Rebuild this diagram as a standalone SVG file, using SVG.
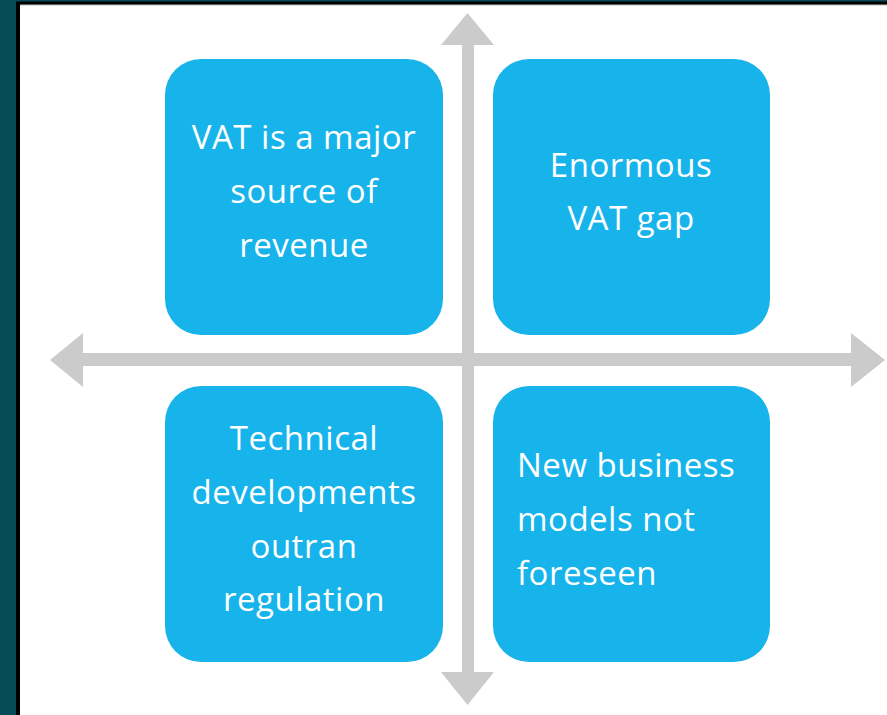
<svg xmlns="http://www.w3.org/2000/svg" width="887" height="715" viewBox="0 0 887 715">
<style>
.box{fill:#17b3eb}
.arrow{fill:#cbcbcb}
.t{font-family:"Open Sans","Liberation Sans",sans-serif;font-size:33px;letter-spacing:0.5px;fill:#ffffff}
.c{text-anchor:middle}
</style>
<rect x="0" y="0" width="887" height="715" fill="#064c57"/>
<rect x="16" y="1.5" width="871" height="713.5" fill="#000000"/>
<rect x="20" y="4.5" width="867" height="710.5" fill="#bdbdbd"/>
<rect x="20" y="5.5" width="867" height="709.5" fill="#ffffff"/>
<g id="connectors">
<polygon class="arrow" points="467.5,13 494,45 474,45 474,672 494,672 467.5,705 441,672 462,672 462,45 441,45"/>
<polygon class="arrow" points="50,360 83,333 83,353 851,353 851,333 885,360 851,387 851,366 83,366 83,387"/>
</g>
<g id="n1">
<rect class="box" x="165" y="59" width="278" height="276" rx="36"/>
<text class="t c" x="304" y="149">VAT is a major</text>
<text class="t c" x="304" y="203">source of</text>
<text class="t c" x="304" y="257">revenue</text>
</g>
<g id="n2">
<rect class="box" x="493" y="59" width="277" height="276" rx="36"/>
<text class="t c" x="631" y="177">Enormous</text>
<text class="t c" x="631" y="230">VAT gap</text>
</g>
<g id="n3">
<rect class="box" x="165" y="386" width="278" height="276" rx="36"/>
<text class="t c" x="304" y="450">Technical</text>
<text class="t c" x="304" y="504">developments</text>
<text class="t c" x="304" y="558">outran</text>
<text class="t c" x="304" y="611">regulation</text>
</g>
<g id="n4">
<rect class="box" x="493" y="386" width="277" height="276" rx="36"/>
<text class="t" x="517" y="477">New business</text>
<text class="t" x="517" y="531">models not</text>
<text class="t" x="517" y="585">foreseen</text>
</g>
</svg>
